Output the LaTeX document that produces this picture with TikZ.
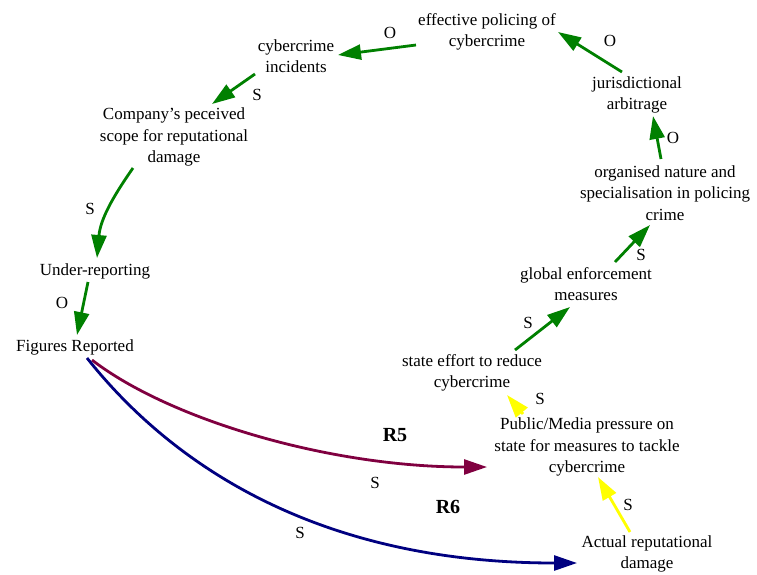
\documentclass[tikz,border=0pt]{standalone}
\usepackage{fontspec}
\setmainfont{Liberation Serif}
\usetikzlibrary{arrows.meta}
\definecolor{linkgreen}{RGB}{0,128,0}
\definecolor{linkmaroon}{RGB}{128,0,64}
\definecolor{linknavy}{RGB}{0,0,128}
\definecolor{linkyellow}{RGB}{255,255,0}
\begin{document}
\begin{tikzpicture}[x=1pt,y=-1pt,
  var/.style={align=center,font=\fontsize{17}{21.5}\selectfont,inner sep=1pt},
  pol/.style={font=\fontsize{17}{19}\selectfont,inner sep=0pt},
  loopname/.style={font=\fontsize{20}{22}\selectfont\bfseries,inner sep=0pt},
  link/.style={line width=2.8pt,-{Triangle[length=23pt,width=15pt]}},
  greenlink/.style={link,linkgreen},
  yellowlink/.style={link,linkyellow}]
\useasboundingbox (0,0) rectangle (757,574);

% variables
\node[var] (eff)   at (487,32)  {effective policing of\\cybercrime};
\node[var] (inc)   at (296,56)  {cybercrime\\incidents};
\node[var] (comp)  at (174,137) {Company's peceived\\scope for reputational\\damage};
\node[var] (under) at (95,271)  {Under-reporting};
\node[var] (fig)   at (75,347)  {Figures Reported};
\node[var] (jur)   at (637,95)  {jurisdictional\\arbitrage};
\node[var] (org)   at (665,193) {organised nature and\\specialisation in policing\\crime};
\node[var] (glob)  at (586,284) {global enforcement\\measures};
\node[var] (state) at (472,373) {state effort to reduce\\cybercrime};
\node[var] (pub)   at (587,447) {Public/Media pressure on\\state for measures to tackle\\cybercrime};
\node[var] (act)   at (647,554) {Actual reputational\\damage};

% loop names
\node[loopname] (r5) at (395,435) {R5};
\node[loopname] (r6) at (448,507) {R6};

% green causal links
\draw[greenlink] ([shift={(-71,13)}]eff.center) -- ([shift={(42,-1)}]inc.center);
\draw[greenlink] ([shift={(-41,18)}]inc.center) -- ([shift={(38,-33)}]comp.center);
\draw[greenlink] ([shift={(-41,31)}]comp.center) to[out=235,in=85] ([shift={(2,-13)}]under.center);
\draw[greenlink] ([shift={(-7,11)}]under.center) -- ([shift={(2,-12)}]fig.center);
\draw[greenlink] ([shift={(43,-23)}]state.center) -- ([shift={(-16,23)}]glob.center);
\draw[greenlink] ([shift={(29,-22)}]glob.center) -- ([shift={(-15,32)}]org.center);
\draw[greenlink] ([shift={(-4,-34)}]org.center) -- ([shift={(16,21)}]jur.center);
\draw[greenlink] ([shift={(-15,-23)}]jur.center) -- ([shift={(71,0)}]eff.center);

% yellow causal links
\draw[yellowlink] ([shift={(-17,-22)}]act.center) -- ([shift={(11,30)}]pub.center);
\draw[yellowlink] ([shift={(-64,-33)}]pub.center) -- ([shift={(35,22)}]state.center);

% links leaving Figures Reported
\draw[link,linkmaroon] ([shift={(17,13)}]fig.center)
  .. controls (170,420) and (330,467) .. ([shift={(-100,20)}]pub.center);
\draw[link,linknavy] ([shift={(12,11)}]fig.center)
  .. controls (160,450) and (300,563) .. ([shift={(-70,9)}]act.center);

% polarities
\node[pol] (p1)  at (390,33)  {O};
\node[pol] (p2)  at (257,95)  {S};
\node[pol] (p3)  at (90,209)  {S};
\node[pol] (p4)  at (62,303)  {O};
\node[pol] (p5)  at (375,483) {S};
\node[pol] (p6)  at (300,533) {S};
\node[pol] (p7)  at (628,505) {S};
\node[pol] (p8)  at (540,399) {S};
\node[pol] (p9)  at (528,323) {S};
\node[pol] (p10) at (641,255) {S};
\node[pol] (p11) at (673,138) {O};
\node[pol] (p12) at (610,41)  {O};
\end{tikzpicture}
\end{document}
